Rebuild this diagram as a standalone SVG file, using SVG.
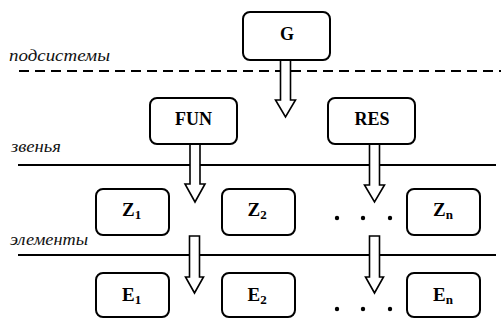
<svg xmlns="http://www.w3.org/2000/svg" width="501" height="320" viewBox="0 0 501 320">
  <style>
    .box { fill: #fff; stroke: #000; stroke-width: 2; }
    .lvl { stroke: #000; stroke-width: 2.2; fill: none; }
    .dash { stroke-dasharray: 10 6; }
    .arrow { fill: #fff; stroke: #000; stroke-width: 1.6; stroke-linejoin: miter; }
    .dot { fill: #000; }
  </style>

  <!-- level labels -->
  <g id="labels" fill="#111">
    <text font-family="Liberation Serif" font-style="italic" font-size="17" x="9" y="61" textLength="101" lengthAdjust="spacingAndGlyphs">подсистемы</text>
    <text font-family="Liberation Serif" font-style="italic" font-size="17" x="11" y="152" textLength="50" lengthAdjust="spacingAndGlyphs">звенья</text>
    <text font-family="Liberation Serif" font-style="italic" font-size="17" x="10" y="245" textLength="78" lengthAdjust="spacingAndGlyphs">элементы</text>
  </g>

  <!-- level separators -->
  <g id="levels">
    <line class="lvl dash" x1="19" y1="71" x2="501" y2="71"/>
    <line class="lvl" x1="18" y1="165" x2="496" y2="165"/>
    <line class="lvl" x1="18" y1="255" x2="496" y2="255"/>
  </g>

  <!-- block arrows between levels -->
  <g id="connectors">
    <path class="arrow" d="M280.5,60 V100 H275.5 L285.5,117 L295.5,100 H290.5 V60 Z"/>
    <path class="arrow" d="M190,144 V184 H185 L195,202 L205,184 H200 V144 Z"/>
    <path class="arrow" d="M369.5,144 V185 H364.5 L374.5,202 L384.5,185 H379.5 V144 Z"/>
    <path class="arrow" d="M189.5,236 V277 H185.5 L194.5,293 L203.5,277 H199.5 V236 Z"/>
    <path class="arrow" d="M369.5,236 V277 H365.5 L374.5,293 L383.5,277 H379.5 V236 Z"/>
  </g>

  <g id="node-G">
    <rect class="box" x="243" y="12" width="87" height="48" rx="7"/>
    <text font-family="Liberation Serif" font-weight="bold" font-size="18" x="287" y="40" text-anchor="middle">G</text>
  </g>

  <g id="node-FUN">
    <rect class="box" x="150" y="98" width="87" height="46" rx="7"/>
    <text font-family="Liberation Serif" font-weight="bold" font-size="18" x="193.5" y="125" text-anchor="middle">FUN</text>
  </g>

  <g id="node-RES">
    <rect class="box" x="328" y="98" width="87" height="46" rx="7"/>
    <text font-family="Liberation Serif" font-weight="bold" font-size="18" x="372" y="125" text-anchor="middle">RES</text>
  </g>

  <g id="node-Z1">
    <rect class="box" x="96" y="189" width="73" height="46" rx="7"/>
    <text font-family="Liberation Serif" font-weight="bold" font-size="19" x="122" y="216">Z<tspan font-size="13" dy="3">1</tspan></text>
  </g>

  <g id="node-Z2">
    <rect class="box" x="222" y="189" width="73" height="46" rx="7"/>
    <text font-family="Liberation Serif" font-weight="bold" font-size="19" x="247.5" y="216">Z<tspan font-size="13" dy="3">2</tspan></text>
  </g>

  <g id="node-Zn">
    <rect class="box" x="407" y="189" width="73" height="46" rx="7"/>
    <text font-family="Liberation Serif" font-weight="bold" font-size="19" x="433" y="216">Z<tspan font-size="13" dy="3">n</tspan></text>
  </g>

  <g id="node-E1">
    <rect class="box" x="96" y="273" width="73" height="44" rx="7"/>
    <text font-family="Liberation Serif" font-weight="bold" font-size="19" x="122" y="301">E<tspan font-size="13" dy="3">1</tspan></text>
  </g>

  <g id="node-E2">
    <rect class="box" x="222" y="273" width="73" height="44" rx="7"/>
    <text font-family="Liberation Serif" font-weight="bold" font-size="19" x="247.5" y="301">E<tspan font-size="13" dy="3">2</tspan></text>
  </g>

  <g id="node-En">
    <rect class="box" x="407" y="273" width="73" height="44" rx="7"/>
    <text font-family="Liberation Serif" font-weight="bold" font-size="19" x="433" y="301">E<tspan font-size="13" dy="3">n</tspan></text>
  </g>

  <!-- ellipsis between the second and last node of each row -->
  <g id="ellipsis">
    <circle class="dot" cx="337" cy="218" r="2.2"/>
    <circle class="dot" cx="363" cy="218" r="2.2"/>
    <circle class="dot" cx="390" cy="218" r="2.2"/>
    <circle class="dot" cx="337" cy="309" r="2.2"/>
    <circle class="dot" cx="363" cy="309" r="2.2"/>
    <circle class="dot" cx="390" cy="309" r="2.2"/>
  </g>
</svg>
